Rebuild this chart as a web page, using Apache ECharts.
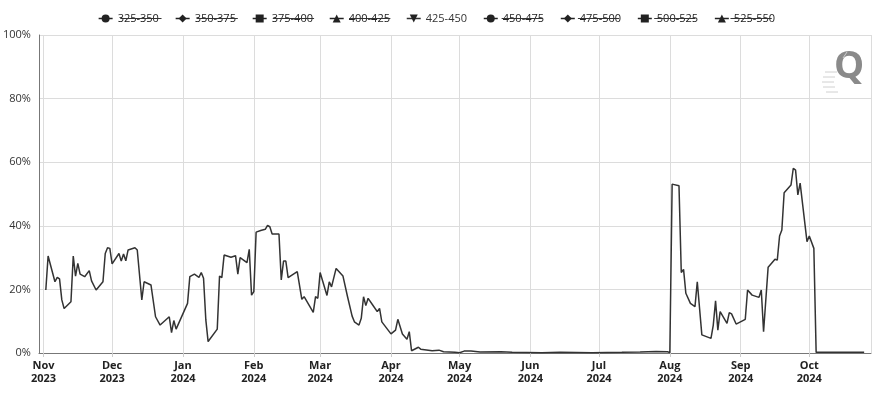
<!DOCTYPE html>
<html><head><meta charset="utf-8">
<script src="https://cdn.jsdelivr.net/npm/echarts@6/dist/echarts.min.js"></script>
<style>html,body{margin:0;padding:0;background:#fff}#c{width:873px;height:396px}</style>
</head><body><div id="c"></div>
<script>
const seriesNames = ['325-350','350-375','375-400','400-425','425-450','450-475','475-500','500-525','525-550'];
const seriesSymbols = ['circle','diamond','rect','triangle','triangle','circle','diamond','rect','triangle'];
const seriesRotate = [0,0,0,0,180,0,0,0,0];
const visibleSeries = '425-450';

const dates = ['2023-11-02','2023-11-03','2023-11-06','2023-11-07','2023-11-08','2023-11-09','2023-11-10','2023-11-13','2023-11-14','2023-11-15','2023-11-16','2023-11-17','2023-11-19','2023-11-21','2023-11-22','2023-11-24','2023-11-27','2023-11-28','2023-11-29','2023-11-30',
'2023-12-01','2023-12-04','2023-12-05','2023-12-06','2023-12-07','2023-12-08','2023-12-11','2023-12-12','2023-12-14','2023-12-15','2023-12-18','2023-12-20','2023-12-22','2023-12-26','2023-12-27','2023-12-28','2023-12-29',
'2024-01-03','2024-01-04','2024-01-06','2024-01-08','2024-01-09','2024-01-10','2024-01-11','2024-01-12','2024-01-16','2024-01-17','2024-01-18','2024-01-19','2024-01-22','2024-01-24','2024-01-25','2024-01-26','2024-01-29','2024-01-30','2024-01-31',
'2024-02-01','2024-02-02','2024-02-04','2024-02-06','2024-02-07','2024-02-08','2024-02-09','2024-02-12','2024-02-13','2024-02-14','2024-02-15','2024-02-16','2024-02-20','2024-02-22','2024-02-23','2024-02-27','2024-02-28','2024-02-29',
'2024-03-01','2024-03-04','2024-03-05','2024-03-06','2024-03-08','2024-03-11','2024-03-13','2024-03-15','2024-03-16','2024-03-18','2024-03-19','2024-03-20','2024-03-21','2024-03-22','2024-03-24','2024-03-26','2024-03-27','2024-03-28',
'2024-04-01','2024-04-03','2024-04-04','2024-04-06','2024-04-08','2024-04-09','2024-04-10','2024-04-13','2024-04-14','2024-04-19','2024-04-22','2024-04-24','2024-04-29',
'2024-05-01','2024-05-03','2024-05-06','2024-05-10','2024-05-19','2024-05-24','2024-06-06','2024-06-14','2024-06-28','2024-07-11','2024-07-19','2024-07-26','2024-07-31',
'2024-08-01','2024-08-02','2024-08-05','2024-08-06','2024-08-07','2024-08-08','2024-08-10','2024-08-12','2024-08-13','2024-08-15','2024-08-19','2024-08-20','2024-08-21','2024-08-22','2024-08-23','2024-08-26','2024-08-27','2024-08-28','2024-08-30',
'2024-09-03','2024-09-04','2024-09-06','2024-09-09','2024-09-10','2024-09-11','2024-09-13','2024-09-16','2024-09-17','2024-09-18','2024-09-19','2024-09-20','2024-09-23','2024-09-24','2024-09-25','2024-09-26','2024-09-27','2024-09-30',
'2024-10-01','2024-10-03','2024-10-04','2024-10-11','2024-10-18','2024-10-25'];

const values = [19.8,30.5,22.4,23.8,23.3,16.7,14.0,16.1,30.5,24.2,28.2,24.8,24.0,25.9,22.7,19.8,22.4,31.3,33.1,32.9,
28.0,31.3,28.9,31.1,29.0,32.4,33.1,32.4,16.7,22.4,21.4,11.4,8.8,11.4,6.4,10.2,7.5,
15.6,24.0,24.8,23.8,25.3,23.5,10.4,3.6,7.5,24.2,23.7,30.8,30.1,30.6,24.8,30.0,28.4,32.6,18.2,
19.3,38.0,38.5,38.9,40.1,39.7,37.4,37.4,23.0,28.9,28.9,23.7,25.6,16.9,17.7,12.8,17.7,17.2,
25.3,18.1,22.4,20.8,26.6,24.2,17.7,11.6,9.8,8.8,10.9,17.7,14.9,17.2,15.1,13.0,14.0,9.8,
6.0,7.2,10.6,6.0,4.3,6.7,0.7,1.8,1.2,0.7,0.9,0.4,0.2,
0.1,0.6,0.6,0.3,0.4,0.2,0.1,0.2,0.1,0.2,0.3,0.5,0.4,
0.1,53.1,52.6,25.3,26.3,18.8,15.6,14.6,22.4,5.7,4.6,8.8,16.4,7.2,13.0,9.3,12.7,12.3,9.1,
10.6,19.8,18.2,17.5,19.8,6.7,27.0,29.5,29.2,36.8,38.7,50.4,52.8,58.1,57.5,49.7,53.4,35.0,
36.8,32.9,0.2,0.2,0.2,0.2];

const xMin = '2023-10-30';
const xMax = '2024-10-28';
const monthNames = ['Jan','Feb','Mar','Apr','May','Jun','Jul','Aug','Sep','Oct','Nov','Dec'];
const yTicks = [0, 20, 40, 60, 80, 100];

function toTs(s){ const p = s.split('-').map(Number); return Date.UTC(p[0], p[1]-1, p[2]); }

const chart = echarts.init(document.getElementById('c'));
const FONT = '"Open Sans", "Liberation Sans", sans-serif';
const selected = {};
seriesNames.forEach(n => selected[n] = (n === visibleSeries));

const legendTop = 8, itemW = 14, itemH = 10, itemGap = 16, legendFont = 11;

const series = seriesNames.map((n, i) => ({
  name: n,
  type: 'line',
  symbol: seriesSymbols[i],
  symbolRotate: seriesRotate[i],
  symbolSize: 7,
  showSymbol: false,
  animation: false,
  color: '#222',
  lineStyle: { color: '#333', width: 1.5 },
  itemStyle: { color: '#222' },
  data: n === visibleSeries ? dates.map((d, k) => [toTs(d), values[k]]) : []
}));

// strike-through decorations over hidden legend entries
const cv = document.createElement('canvas').getContext('2d');
cv.font = legendFont + 'px ' + FONT;
const widths = seriesNames.map(n => itemW + 5 + cv.measureText(n).width);
const total = widths.reduce((a, b) => a + b, 0) + itemGap * (seriesNames.length - 1);
let cx = (873 - total) / 2;
const graphics = [];
const sy = legendTop + 5 + itemH / 2 + 0.5;
seriesNames.forEach((n, i) => {
  if (n !== visibleSeries) {
    graphics.push({ type: 'line', silent: true, z: 100,
      shape: { x1: cx + itemW + 5, y1: sy, x2: cx + widths[i], y2: sy },
      style: { stroke: '#333', lineWidth: 1 } });
  }
  cx += widths[i] + itemGap;
});
// watermark logo
graphics.push({ type: 'text', left: 834, top: 48, silent: true, z: 0,
  style: { text: 'Q', font: 'bold 38px "Open Sans", sans-serif', fill: '#8a8a8a' } });
[[825,72],[823,77],[822,82],[823,87],[826,92]].forEach(p => {
  graphics.push({ type: 'line', silent: true, z: 0, shape: { x1: p[0], y1: p[1], x2: p[0] + 12, y2: p[1] },
    style: { stroke: '#d0d0d0', lineWidth: 1 } });
});
graphics.push({ type: 'line', silent: true, z: 0, shape: { x1: 843, y1: 58, x2: 847, y2: 52 }, style: { stroke: '#ccc', lineWidth: 1 } });

chart.setOption({
  animation: false,
  useUTC: true,
  backgroundColor: '#fff',
  textStyle: { fontFamily: FONT },
  legend: {
    top: legendTop, left: 'center',
    itemWidth: itemW, itemHeight: itemH, itemGap: itemGap,
    selected: selected,
    selectedMode: false,
    inactiveColor: '#222', inactiveBorderColor: '#222',
    lineStyle: { width: 1.5, inactiveColor: '#222', inactiveWidth: 1.5 },
    textStyle: { color: '#333', fontSize: legendFont, fontFamily: FONT },
    data: seriesNames
  },
  grid: { left: 37, right: 2, top: 35, bottom: 43, containLabel: false },
  xAxis: {
    type: 'time',
    min: toTs(xMin), max: toTs(xMax),
    minInterval: 28 * 86400000, maxInterval: 31 * 86400000,
    axisLine: { show: true, lineStyle: { color: '#777', width: 1 } },
    axisTick: { show: true, length: 4, lineStyle: { color: '#ccc' } },
    splitLine: { show: true, lineStyle: { color: '#dcdcdc', width: 1 } },
    axisLabel: {
      color: '#222', fontSize: 11, fontWeight: 'bold', lineHeight: 13, margin: 6,
      showMinLabel: false, showMaxLabel: false, hideOverlap: false,
      formatter: function (v) {
        const d = new Date(v);
        if (d.getUTCDate() !== 1) return '';
        return monthNames[d.getUTCMonth()] + '\n' + d.getUTCFullYear();
      }
    }
  },
  yAxis: {
    type: 'value', min: yTicks[0], max: yTicks[yTicks.length - 1], interval: yTicks[1] - yTicks[0],
    axisLine: { show: true, lineStyle: { color: '#777', width: 1 } },
    axisTick: { show: false },
    splitLine: { show: true, lineStyle: { color: '#dcdcdc', width: 1 } },
    axisLabel: { color: '#333', fontSize: 11, margin: 8, formatter: '{value}%' }
  },
  graphic: graphics,
  series: series
});
</script></body></html>
